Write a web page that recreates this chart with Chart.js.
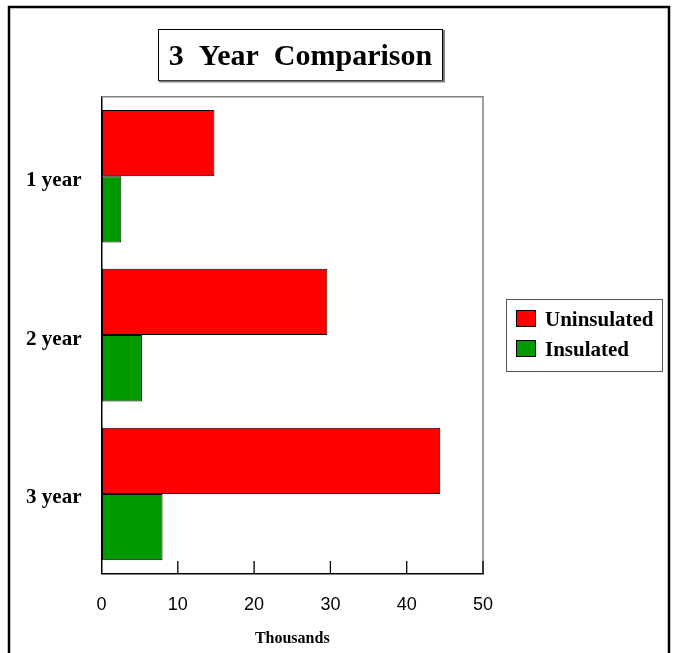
<!DOCTYPE html>
<html>
<head>
<meta charset="utf-8">
<title>3 Year Comparison</title>
<script src="https://cdn.jsdelivr.net/npm/chart.js@4.4.1/dist/chart.umd.min.js"></script>
<style>
  html, body { margin: 0; padding: 0; background: #fff; }
  #chart { display: block; }
</style>
</head>
<body>
<canvas id="chart" width="678" height="653"></canvas>
<script>
const categories = ['1 year', '2 year', '3 year'];
const uninsulated = [14.8, 29.6, 44.4];
const insulated = [2.6, 5.3, 8.0];
const xTickValues = [0, 10, 20, 30, 40, 50];
const seriesNames = ['Uninsulated', 'Insulated'];
const seriesColors = ['#ff0000', '#009900'];
const titleText = '3  Year  Comparison';
const xAxisTitle = 'Thousands';

const serif = '"Times New Roman", "Liberation Serif", serif';
const sans = 'Arial, "Liberation Sans", sans-serif';

// title box, legend box, outer frame and the inward tick marks
const framePlugin = {
    id: 'frame',
    beforeDraw(chart) {
        const ctx = chart.ctx;
        ctx.save();
        ctx.fillStyle = '#fff';
        ctx.fillRect(0, 0, chart.width, chart.height);
        ctx.restore();
    },
    afterDraw(chart) {
        const { ctx, chartArea: a, scales: { x } } = chart;
        ctx.save();

        // top and right edge of the plot
        ctx.strokeStyle = '#808080';
        ctx.lineWidth = 1.5;
        ctx.beginPath();
        ctx.moveTo(a.left, a.top);
        ctx.lineTo(a.right, a.top);
        ctx.lineTo(a.right, a.bottom);
        ctx.stroke();

        // tick marks point up into the plot
        ctx.strokeStyle = '#000';
        ctx.lineWidth = 1.3;
        ctx.beginPath();
        xTickValues.slice(1).forEach(v => {
            const px = x.getPixelForValue(v);
            ctx.moveTo(px, a.bottom);
            ctx.lineTo(px, a.bottom - 12.5);
        });
        ctx.stroke();

        // outer border (bottom edge is off the picture)
        ctx.lineWidth = 2.5;
        ctx.beginPath();
        ctx.moveTo(9, 660);
        ctx.lineTo(9, 7);
        ctx.lineTo(669, 7);
        ctx.lineTo(669, 660);
        ctx.stroke();

        // title box
        ctx.lineWidth = 1;
        ctx.strokeRect(158.5, 29.5, 284, 51);
        ctx.strokeStyle = '#808080';
        ctx.lineWidth = 2;
        ctx.beginPath();
        ctx.moveTo(159, 81.5);
        ctx.lineTo(444, 81.5);
        ctx.lineTo(444, 30);
        ctx.stroke();
        ctx.fillStyle = '#000';
        ctx.font = 'bold 30px ' + serif;
        ctx.textAlign = 'center';
        ctx.textBaseline = 'middle';
        ctx.fillText(titleText, 300.5, 57);

        // legend
        ctx.strokeStyle = '#555';
        ctx.lineWidth = 1;
        ctx.strokeRect(506.5, 299.5, 156, 72);
        ctx.font = 'bold 21px ' + serif;
        ctx.textAlign = 'left';
        chart.data.datasets.forEach((ds, i) => {
            const y = 310 + i * 30;
            ctx.fillStyle = ds.backgroundColor;
            ctx.fillRect(516, y, 20, 17);
            ctx.strokeStyle = '#000';
            ctx.strokeRect(516.5, y + 0.5, 19, 16);
            ctx.fillStyle = '#000';
            ctx.fillText(ds.label, 545, y + 11);
        });

        ctx.restore();
    }
};

new Chart(document.getElementById('chart'), {
    type: 'bar',
    data: {
        labels: categories,
        datasets: [
            {
                label: seriesNames[0],
                data: uninsulated,
                backgroundColor: seriesColors[0],
                borderColor: '#000',
                borderWidth: 1,
                borderSkipped: false,
            },
            {
                label: seriesNames[1],
                data: insulated,
                backgroundColor: seriesColors[1],
                borderColor: '#000',
                borderWidth: 1,
                borderSkipped: false,
            },
        ],
    },
    options: {
        indexAxis: 'y',
        responsive: false,
        animation: false,
        devicePixelRatio: 1,
        barPercentage: 1,
        categoryPercentage: 0.834,
        layout: {
            padding: { left: 0, top: 96.7, right: 195, bottom: 0 },
        },
        scales: {
            x: {
                min: 0,
                max: 50,
                afterFit: (scale) => { scale.height = 79.5; },
                afterBuildTicks: (scale) => {
                    scale.ticks = xTickValues.map(v => ({ value: v }));
                },
                grid: { display: true, drawOnChartArea: false, drawTicks: false },
                border: { display: true, color: '#000', width: 1.5 },
                ticks: {
                    color: '#000',
                    padding: 21,
                    font: { family: sans, size: 18 },
                },
                title: {
                    display: true,
                    text: xAxisTitle,
                    color: '#000',
                    font: { family: serif, size: 16, weight: 'bold' },
                    padding: { top: 0, bottom: 5 },
                },
            },
            y: {
                afterFit: (scale) => { scale.width = 101.5; },
                grid: { display: true, drawOnChartArea: false, drawTicks: false },
                border: { display: true, color: '#000', width: 1.5 },
                ticks: {
                    color: '#000',
                    padding: 20,
                    labelOffset: 4,
                    font: { family: serif, size: 21, weight: 'bold' },
                },
            },
        },
        plugins: {
            legend: { display: false },
            title: { display: false },
            tooltip: { enabled: false },
        },
    },
    plugins: [framePlugin],
});
</script>
</body>
</html>
